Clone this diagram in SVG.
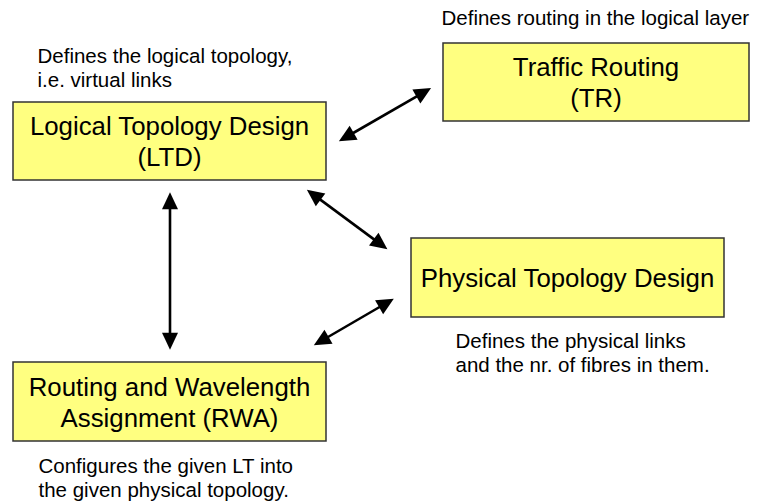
<svg xmlns="http://www.w3.org/2000/svg" width="759" height="504" viewBox="0 0 759 504">
<style>
.box{fill:#ffff80;stroke:#333;stroke-width:1.5}
.t{font-family:"Liberation Sans",Arial,sans-serif;font-size:25.8px;fill:#000;text-anchor:middle}
.a{font-family:"Liberation Sans",Arial,sans-serif;font-size:20.5px;fill:#000}
.c{stroke:#000;stroke-width:2.6;fill:none;marker-start:url(#ah);marker-end:url(#ah)}
</style>
<defs>
<marker id="ah" markerUnits="userSpaceOnUse" markerWidth="18" markerHeight="17" viewBox="0 0 17 17" refX="12.5" refY="8.5" orient="auto-start-reverse">
<path d="M0,0.5 L17,8.5 L0,16.5 z" fill="#000"/>
</marker>
</defs>
<g id="connectors">
<line class="c" x1="342.8" y1="139" x2="427.2" y2="90.3"/>
<line class="c" x1="310.5" y1="192.4" x2="383.8" y2="246.6"/>
<line class="c" x1="389.9" y1="301" x2="317.7" y2="343"/>
<line class="c" x1="170" y1="196.7" x2="170" y2="345.3"/>
</g>
<g id="ltd">
<rect class="box" x="13" y="102" width="313" height="78"/>
<text class="t" x="169.5" y="135">Logical Topology Design</text>
<text class="t" x="169.5" y="166">(LTD)</text>
</g>
<g id="tr">
<rect class="box" x="443" y="43" width="306" height="78"/>
<text class="t" x="596" y="76">Traffic Routing</text>
<text class="t" x="596" y="107">(TR)</text>
</g>
<g id="ptd">
<rect class="box" x="411" y="238" width="313" height="79"/>
<text class="t" x="567.5" y="286.5">Physical Topology Design</text>
</g>
<g id="rwa">
<rect class="box" x="13" y="362" width="313" height="79"/>
<text class="t" x="169.5" y="395.5">Routing and Wavelength</text>
<text class="t" x="169.5" y="426.5">Assignment (RWA)</text>
</g>
<g id="notes">
<text class="a" x="37.5" y="63.3">Defines the logical topology,</text>
<text class="a" x="37.5" y="86.7">i.e. virtual links</text>
<text class="a" x="441.5" y="25">Defines routing in the logical layer</text>
<text class="a" x="455.5" y="348.3">Defines the physical links</text>
<text class="a" x="455.5" y="372">and the nr. of fibres in them.</text>
<text class="a" x="38.5" y="472.5">Configures the given LT into</text>
<text class="a" x="38.5" y="496.5">the given physical topology.</text>
</g>
</svg>
